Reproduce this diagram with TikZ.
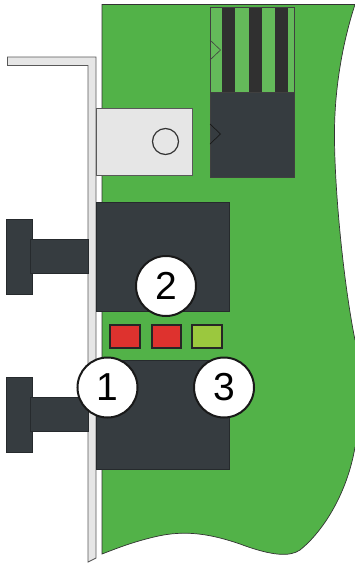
\documentclass[tikz,border=0pt]{standalone}
\usepackage{fontspec}
\setmainfont{Liberation Sans}
\usetikzlibrary{positioning,calc}
\definecolor{boardgreen}{RGB}{82,178,72}
\definecolor{pingreen}{RGB}{100,186,90}
\definecolor{portdark}{RGB}{54,60,64}
\definecolor{pindark}{RGB}{48,48,48}
\definecolor{bracketgray}{RGB}{230,230,230}
\definecolor{ledred}{RGB}{222,50,46}
\definecolor{ledlime}{RGB}{155,200,62}
\tikzset{
  port/.style={fill=portdark, draw=portdark!70!black, line width=0.5pt},
  metal/.style={fill=bracketgray, draw=black!65, line width=0.9pt},
  led/.style={fill=#1, draw=black!85, line width=2pt, minimum height=23pt, inner sep=0pt},
  callout/.style={circle, fill=white, draw=black!90, line width=2pt,
    minimum size=60pt, inner sep=0pt, font=\fontsize{39}{39}\selectfont}
}
\begin{document}
\begin{tikzpicture}[x=1pt,y=-1pt]
\useasboundingbox (0,0) rectangle (355,563);
% pcb
\fill[boardgreen] (102,4.5) -- (355,4.5) .. controls (345,35) and (335,80) .. (334.5,130)
  .. controls (334,185) and (343,280) .. (355,340) -- (355,447)
  .. controls (348,490) and (325,530) .. (300,550) .. controls (290,557) and (272,556) .. (240,544)
  .. controls (205,532) and (180,530) .. (150,538) .. controls (130,543) and (115,549) .. (102,554) -- cycle;
\draw[black!80, line width=0.7pt] (355,447)
  .. controls (348,490) and (325,530) .. (300,550) .. controls (290,557) and (272,556) .. (240,544)
  .. controls (205,532) and (180,530) .. (150,538) .. controls (130,543) and (115,549) .. (102,554) -- (102,4.5) -- (355,4.5)
  .. controls (345,35) and (335,80) .. (334.5,130) .. controls (334,185) and (343,280) .. (355,340);
% bracket
\draw[metal] (7.5,57) -- (96,57) -- (96,558) -- (88,562) -- (88,65.5) -- (7.5,65.5) -- cycle;
\draw[metal] (96,108.5) rectangle (192,175);
\node[circle, draw=black!80, line width=1.2pt, minimum size=26pt, inner sep=0pt] (screw) at (165.5,141.5) {};
% header
\fill[pingreen] (210,7.5) rectangle (294,92);
\foreach \x in {222,249,275} {
  \fill[pindark] (\x,7.5) rectangle (\x+12.5,92);
}
\draw[black!75, line width=0.8pt] (210,7.5) rectangle (294,92);
\fill[portdark] (210,92) rectangle (294,177);
\draw[black!75, line width=0.8pt] (210,92) rectangle (294,177);
\draw[black!75, line width=0.6pt] (210,40) -- (220.5,50) -- (210,60);
\draw[black!90, line width=0.7pt] (210,124) -- (220.5,134) -- (210,144);
% ports
\foreach \y in {202,360} {
  \draw[port] (96,\y) rectangle (229,\y+109);
  \draw[port] (6,\y+17) rectangle (32,\y+92);
  \draw[port] (30.5,\y+37) rectangle (88,\y+71);
}
% leds
\node[led=ledred, minimum width=30pt] (led1) at (125.2,336.5) {};
\node[led=ledred, minimum width=29pt, right=9.5pt of led1] (led2) {};
\node[led=ledlime, minimum width=30pt, right=9.5pt of led2] (led3) {};
% numbers
\node[callout] (two) at (166,286) {2};
\node[callout] (one) at (107.5,387.5) {1};
\node[callout] (three) at (224,387.5) {3};
\end{tikzpicture}
\end{document}
